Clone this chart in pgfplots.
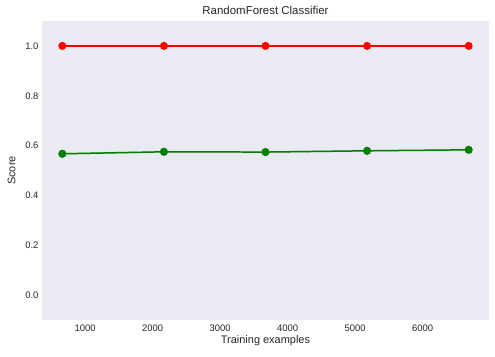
\documentclass[border=0pt]{standalone}
\usepackage{pgfplots}
\pgfplotsset{compat=1.18}
\usepackage{fontspec}
\setmainfont{Liberation Sans}
\definecolor{bgc}{HTML}{EAEAF2}
\definecolor{txt}{HTML}{262626}
\begin{document}
\begin{tikzpicture}
\begin{axis}[
  name=ax,
  at={(0,0)},
  scale only axis,
  width=447bp, height=299bp,
  xmin=362, xmax=6984,
  ymin=-0.1, ymax=1.1,
  axis background/.style={fill=bgc},
  axis line style={draw=none},
  tick style={draw=none},
  xtick={1000,2000,3000,4000,5000,6000},
  ytick={0,0.2,0.4,0.6,0.8,1.0},
  /pgf/number format/assume math mode=true,
  xticklabel style={font=\fontsize{9.5}{11}\selectfont, text=txt, yshift=-1bp},
  yticklabel style={font=\fontsize{9.5}{11}\selectfont, text=txt, /pgf/number format/fixed, /pgf/number format/fixed zerofill, /pgf/number format/precision=1},
  scaled x ticks=false,
  xticklabel={\pgfmathprintnumber[set thousands separator={}]{\tick}},
  title={RandomForest Classifier},
  title style={font=\fontsize{11.5}{13}\selectfont, text=txt, yshift=-3bp},
  xlabel={Training examples},
  ylabel={Score},
  xlabel style={font=\fontsize{11}{13}\selectfont, text=txt, yshift=3bp},
  ylabel style={font=\fontsize{11}{13}\selectfont, text=txt, yshift=3bp},
  clip=false,
]
\addplot[draw=none, fill=red, fill opacity=0.1, forget plot] coordinates {
 (663,1.0) (2168,1.0) (3673,1.0) (5178,1.0) (6683,1.0)} ;
\addplot[draw=none, fill=green!50!black, fill opacity=0.12, forget plot] coordinates {
 (663,0.571) (2168,0.579) (3673,0.578) (5178,0.583) (6683,0.587)
 (6683,0.579) (5178,0.575) (3673,0.570) (2168,0.571) (663,0.563)} -- cycle;
\addplot[color=red, line width=1.4pt, mark=*, mark size=3.3bp] coordinates {
 (663,1.0) (2168,1.0) (3673,1.0) (5178,1.0) (6683,1.0)};
\addplot[color=green!50!black, line width=1.5pt, mark=*, mark size=3.3bp] coordinates {
 (663,0.567) (2168,0.575) (3673,0.574) (5178,0.579) (6683,0.583)};
\end{axis}
\pgfresetboundingbox
\path[use as bounding box] ([shift={(-42bp,-37bp)}]ax.south west) rectangle ([shift={(6bp,21bp)}]ax.north east);
\end{tikzpicture}
\end{document}
